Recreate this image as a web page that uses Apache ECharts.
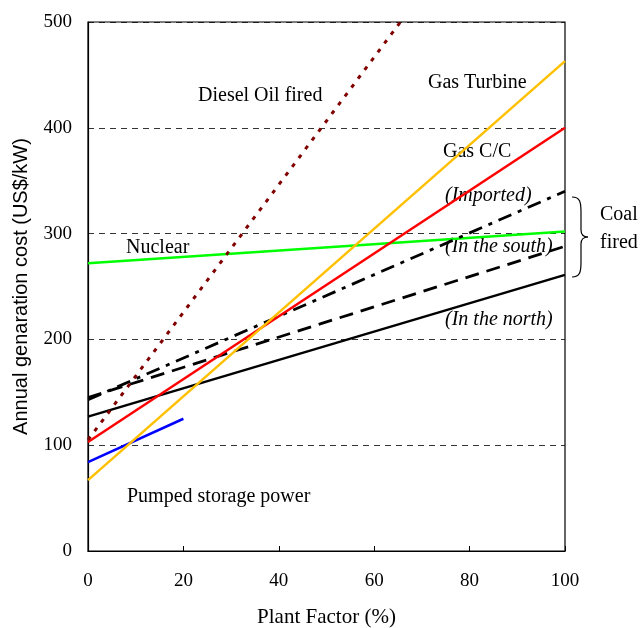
<!DOCTYPE html>
<html><head><meta charset="utf-8">
<script src="https://cdn.jsdelivr.net/npm/echarts@6/dist/echarts.min.js"></script>
<style>html,body{margin:0;padding:0;background:#fff}#c{width:641px;height:628px}</style>
</head><body><div id="c"></div>
<script>
var xTicks = [0, 20, 40, 60, 80, 100];
var yTicks = [0, 100, 200, 300, 400, 500];
var dieselOil = [[0, 105], [65.5, 500]];
var gasTurbine = [[0, 67], [100, 463]];
var gasCC = [[0, 103], [100, 400]];
var nuclear = [[0, 272], [100, 302]];
var coalImported = [[0, 143], [100, 340]];
var coalSouth = [[0, 145], [100, 288]];
var coalNorth = [[0, 127], [100, 261]];
var pumpedStorage = [[0, 84], [20, 125]];

var chart = echarts.init(document.getElementById('c'), null, {renderer: 'canvas'});
var serif = '"Liberation Serif", "Times New Roman", serif';
function ln(name, data, color, type, width) {
  return {name: name, type: 'line', data: data, symbol: 'none', silent: true,
    lineStyle: {color: color, width: width || 2.5, type: type || 'solid'}, z: 3};
}
function txt(s, l, t, italic) {
  return {type: 'text', left: l, top: t, silent: true,
    style: {text: s, fontFamily: serif, fontSize: 20, fontStyle: italic ? 'italic' : 'normal', fill: '#000'}};
}
var bs = {fill: 'none', stroke: '#000', lineWidth: 1.2};
chart.setOption({
  animation: false,
  grid: {left: 88, right: 76, top: 22, bottom: 77, show: true, borderColor: '#000', borderWidth: 1.2,
    containLabel: false, outerBoundsMode: 'none'},
  xAxis: {type: 'value', min: 0, max: 100, interval: 20,
    name: 'Plant Factor (%)', nameLocation: 'middle', nameGap: 56,
    nameTextStyle: {fontFamily: serif, fontSize: 21, color: '#000'},
    axisLine: {show: true, lineStyle: {color: '#000', width: 1.2}},
    axisTick: {show: true, inside: true, length: 5, lineStyle: {color: '#000', width: 1}},
    splitLine: {show: false},
    axisLabel: {fontFamily: serif, fontSize: 19, color: '#000', margin: 21,
      formatter: function (v) { return xTicks.indexOf(v) >= 0 ? String(v) : ''; }}},
  yAxis: {type: 'value', min: 0, max: 500, interval: 100,
    name: 'Annual genaration cost (US$/kW)', nameLocation: 'middle', nameGap: 57,
    nameTextStyle: {fontFamily: '"Liberation Sans", Arial, sans-serif', fontSize: 20, color: '#000'},
    axisLine: {show: true, lineStyle: {color: '#000', width: 1.2}},
    axisTick: {show: false},
    splitLine: {show: true, lineStyle: {color: '#000', width: 0.8, type: [6, 5]}},
    axisLabel: {fontFamily: serif, fontSize: 19, color: '#000', margin: 16,
      formatter: function (v) { return yTicks.indexOf(v) >= 0 ? String(v) : ''; }}},
  series: [
    ln('Pumped storage power', pumpedStorage, '#0000FF'),
    ln('Nuclear', nuclear, '#00FF00'),
    ln('Coal north', coalNorth, '#000000'),
    ln('Coal south', coalSouth, '#000000', [14, 8], 2.8),
    ln('Coal imported', coalImported, '#000000', [14, 7, 4, 7], 2.8),
    ln('Gas C/C', gasCC, '#FF0000'),
    ln('Gas Turbine', gasTurbine, '#FFC000'),
    ln('Diesel Oil fired', dieselOil, '#800000', [4, 7], 3)
  ],
  graphic: [
    txt('Diesel Oil fired', 198, 86),
    txt('Gas Turbine', 428, 73),
    txt('Gas C/C', 443, 142),
    txt('(Imported)', 445, 186, true),
    txt('Nuclear', 126, 238),
    txt('(In the south)', 445, 237, true),
    txt('(In the north)', 445, 310, true),
    txt('Pumped storage power', 127, 487),
    txt('Coal', 600, 205),
    txt('fired', 600, 233),
    {type: 'bezierCurve', shape: {x1: 572, y1: 197, cpx1: 580, cpy1: 197, cpx2: 581, cpy2: 202, x2: 581, y2: 212}, style: bs},
    {type: 'line', shape: {x1: 581, y1: 212, x2: 581, y2: 230}, style: bs},
    {type: 'bezierCurve', shape: {x1: 581, y1: 230, cpx1: 581, cpy1: 235, cpx2: 583, cpy2: 237, x2: 588, y2: 237}, style: bs},
    {type: 'bezierCurve', shape: {x1: 588, y1: 237, cpx1: 583, cpy1: 237, cpx2: 581, cpy2: 239, x2: 581, y2: 244}, style: bs},
    {type: 'line', shape: {x1: 581, y1: 244, x2: 581, y2: 262}, style: bs},
    {type: 'bezierCurve', shape: {x1: 581, y1: 262, cpx1: 581, cpy1: 272, cpx2: 580, cpy2: 277, x2: 572, y2: 277}, style: bs}
  ]
});
</script></body></html>
